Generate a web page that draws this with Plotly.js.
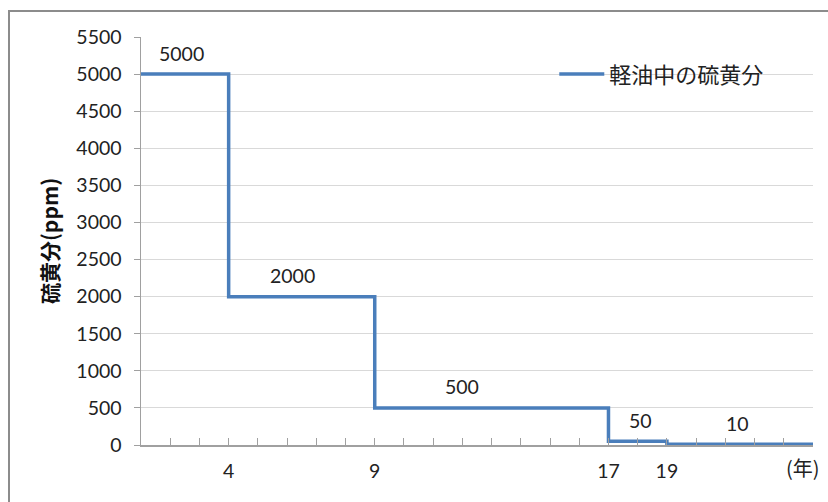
<!DOCTYPE html>
<html>
<head>
<meta charset="utf-8">
<script src="https://cdn.plot.ly/plotly-3.0.1.min.js"></script>
<style>
  html, body { margin: 0; padding: 0; background: #fff; }
  #wrap { position: relative; width: 828px; height: 502px; overflow: hidden; }
  #chart { width: 828px; height: 502px; }
  #frame { position: absolute; left: 8px; top: 10px; width: 840px; height: 520px;
           border-left: 2px solid #8c8c8c; border-top: 2px solid #8c8c8c; pointer-events: none; }
</style>
</head>
<body>
<div id="wrap">
  <div id="chart"></div>
  <div id="frame"></div>
</div>
<script>
// Step change points (year index) and sulfur content (ppm)
const stepYears = [1, 4, 9, 17, 19, 24];
const sulfurPpm = [5000, 2000, 500, 50, 10, 10];
// Value labels and the year where each label is placed
const labelText = ['5000', '2000', '500', '50', '10'];
const labelYear = [2.4, 6.2, 12.0, 18.1, 21.4];
const labelValue = [5000, 2000, 500, 50, 10];
// X tick labels
const xTickVals = [2,3,4,5,6,7,8,9,10,11,12,13,14,15,16,17,18,19,20,21,22,23,24];
const xTickShown = [4, 9, 17, 19];
const seriesName = '軽油中の硫黄分';
const yTitle = '硫黄分(ppm)';
const xUnit = '(年)';

const baseFont = 'Lato, "Open Sans", "Noto Sans CJK JP", sans-serif';

const trace = {
  x: stepYears,
  y: sulfurPpm,
  type: 'scatter',
  mode: 'lines',
  line: { shape: 'hv', color: '#4a7ebb', width: 3.5 },
  name: seriesName,
  hoverinfo: 'skip'
};

const annotations = labelText.map((t, i) => ({
  x: labelYear[i], y: labelValue[i], xref: 'x', yref: 'y',
  text: t, showarrow: false, yanchor: 'middle', yshift: 21,
  font: { family: baseFont, size: 19.5, color: '#222' }
}));
annotations.push({
  x: 23.65, y: 0, xref: 'x', yref: 'y', text: xUnit, showarrow: false,
  yanchor: 'middle', yshift: -22,
  font: { family: '"Noto Sans CJK JP", sans-serif', size: 20, color: '#222' }
});

const layout = {
  width: 828, height: 502,
  margin: { l: 141, r: 15, t: 37, b: 57 },
  paper_bgcolor: '#fff', plot_bgcolor: '#fff',
  font: { family: baseFont, size: 19.5, color: '#222' },
  showlegend: true,
  legend: {
    x: 0.615, y: 0.909, xanchor: 'left', yanchor: 'middle',
    bgcolor: 'rgba(0,0,0,0)', itemwidth: 45,
    font: { family: '"Noto Sans CJK JP", sans-serif', size: 22, color: '#222' }
  },
  xaxis: {
    range: [1, 24], type: 'linear',
    tickmode: 'array', tickvals: xTickVals,
    ticktext: xTickVals.map(v => xTickShown.includes(v) ? String(v) : ''),
    ticks: 'inside', ticklen: 7, tickcolor: '#a0a0a0', tickwidth: 1,
    ticklabelstandoff: 8,
    showgrid: false, zeroline: false,
    showline: true, linecolor: '#a0a0a0', linewidth: 1.5,
    tickfont: { family: baseFont, size: 19.5, color: '#222' },
    fixedrange: true
  },
  yaxis: {
    range: [0, 5500], dtick: 500, tick0: 0,
    ticks: 'outside', ticklen: 6, tickcolor: '#a0a0a0',
    ticklabelstandoff: 8,
    showgrid: true, gridcolor: '#d9d9d9', gridwidth: 1,
    zeroline: false, showline: true, linecolor: '#a0a0a0', linewidth: 1.5,
    tickfont: { family: baseFont, size: 19.5, color: '#222' },
    title: { text: yTitle, standoff: 12,
             font: { family: '"Noto Sans CJK JP", sans-serif', size: 21, color: '#111', weight: 'bold' } },
    fixedrange: true
  },
  annotations: annotations
};

Plotly.newPlot('chart', [trace], layout, { displayModeBar: false, staticPlot: true });
</script>
</body>
</html>
